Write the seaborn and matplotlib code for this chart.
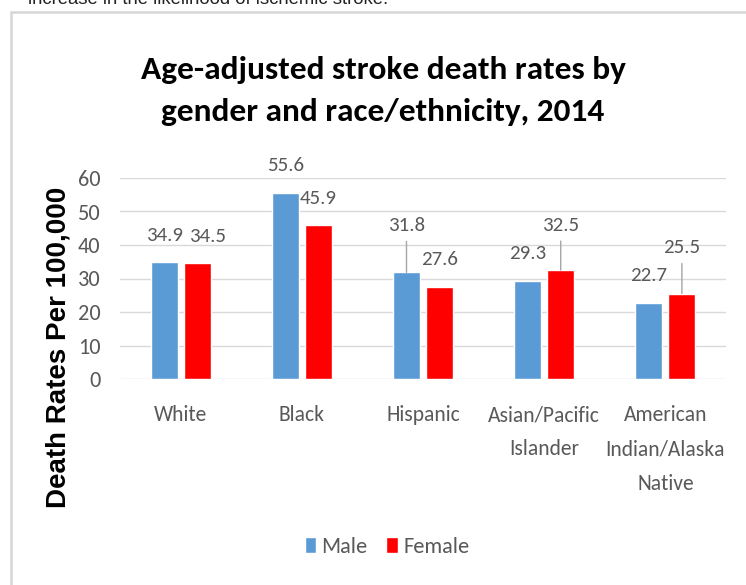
import matplotlib
matplotlib.use("Agg")
import matplotlib.pyplot as plt
from matplotlib.patches import Rectangle
import seaborn as sns
import pandas as pd

# ---- data ----
categories = ["White", "Black", "Hispanic", "Asian/Pacific\nIslander", "American\nIndian/Alaska\nNative"]
male = [34.9, 55.6, 31.8, 29.3, 22.7]
female = [34.5, 45.9, 27.6, 32.5, 25.5]
series = ["Male", "Female"]
yticks = [0, 10, 20, 30, 40, 50, 60]

df = pd.DataFrame({
    "Race": categories * 2,
    "Rate": male + female,
    "Sex": ["Male"] * len(categories) + ["Female"] * len(categories),
})

# ---- style ----
sns.set_theme(style="white")
CAL = ["Carlito", "DejaVu Sans"]
ARIAL = ["Liberation Sans", "DejaVu Sans"]
plt.rcParams["font.family"] = CAL
GRAY = "#595959"
colors = {"Male": "#5B9BD5", "Female": "#FF0000"}

fig = plt.figure(figsize=(7.46, 5.85), dpi=100)
ax = fig.add_axes([120 / 746, 1 - 379 / 585, 606 / 746, 201 / 585])

sns.barplot(data=df, x="Race", y="Rate", hue="Sex", hue_order=series,
            palette=colors, width=0.545, gap=0.18, saturation=1,
            ax=ax, legend=True, zorder=3, errorbar=None)

ax.set_ylim(0, 60)
ax.set_xlim(-0.5, len(categories) - 0.5)
ax.set_yticks(yticks)
ax.grid(axis="y", color="#d9d9d9", lw=1, zorder=0)
ax.set_axisbelow(True)
for s in ax.spines.values():
    s.set_visible(False)
ax.tick_params(axis="y", length=0, pad=14, labelsize=16, labelcolor=GRAY)
ax.tick_params(axis="x", length=0, pad=19, labelsize=15.5, labelcolor=GRAY)
for lab in ax.get_xticklabels():
    lab.set_linespacing(1.88)
    lab.set_verticalalignment("top")
ax.set_xlabel("")
ax.set_ylabel("Death Rates Per 100,000", fontsize=20, fontweight="bold",
              family=ARIAL, color="black")
ax.yaxis.set_label_coords(-48 / 606, 0.157)

# ---- data labels ----
# (dx px, dy px, leader line) per series/category
label_style = {
    ("Male", 2): (0, 47, True),
    ("Female", 0): (10, 27, False),
    ("Female", 3): (0, 45, True),
    ("Female", 4): (0, 46, True),
}
px = 0.72
for si, (sname, vals) in enumerate(zip(series, [male, female])):
    cont = ax.containers[si]
    for ci, (bar, v) in enumerate(zip(cont, vals)):
        xc = bar.get_x() + bar.get_width() / 2
        dx, dy, leader = label_style.get((sname, ci), (0, 27, False))
        kw = {}
        if leader:
            kw["arrowprops"] = dict(arrowstyle="-", color="#a6a6a6", lw=1,
                                    shrinkA=3, shrinkB=0, relpos=(0.5, 0))
        ax.annotate(f"{v:.1f}", xy=(xc, bar.get_height()),
                    xytext=(dx * px, dy * px), textcoords="offset points",
                    ha="center", va="center", fontsize=15, color=GRAY,
                    annotation_clip=False, **kw)

# ---- legend ----
leg = ax.legend(loc="center", bbox_to_anchor=(387 / 746, 1 - 547 / 585),
                bbox_transform=fig.transFigure, ncol=2, frameon=False,
                fontsize=16, handlelength=0.5, handleheight=0.75,
                handletextpad=0.25, columnspacing=0.85)
for t in leg.get_texts():
    t.set_color(GRAY)

# ---- title ----
fig.text(383 / 746, 1 - 79 / 585, "Age-adjusted stroke death rates by",
         ha="center", va="baseline", fontsize=24, fontweight="bold", color="black")
fig.text(383 / 746, 1 - 121 / 585, "gender and race/ethnicity, 2014",
         ha="center", va="baseline", fontsize=24, fontweight="bold", color="black")

# ---- page context: cropped sentence and frame ----
fig.text(28 / 746, 1 - 4 / 585, "increase in the likelihood of ischemic stroke.",
         ha="left", va="baseline", fontsize=13.3, family=ARIAL, color="#222222")
fig.add_artist(Rectangle((11 / 746, -0.1), 1.0, 1.1 - 12 / 585, fill=False,
                         ec="#d6d6d6", lw=1.8, transform=fig.transFigure))

fig.savefig("out.png", dpi=100, facecolor="white")
